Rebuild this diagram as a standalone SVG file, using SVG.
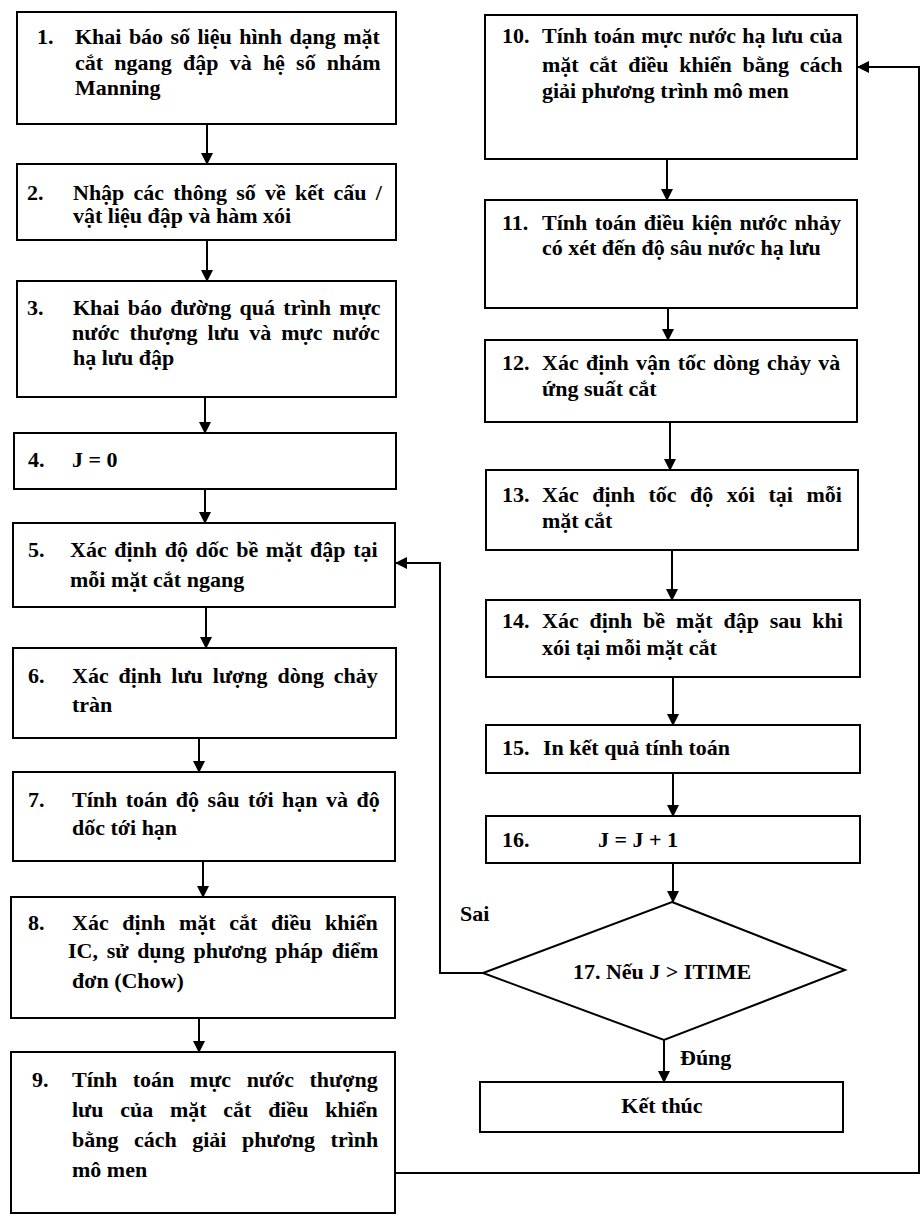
<svg xmlns="http://www.w3.org/2000/svg" width="922" height="1220" viewBox="0 0 922 1220">
<style>
.box{fill:#fff;stroke:#000;stroke-width:2}
.t{font-family:"Liberation Serif","Times New Roman",serif;font-weight:bold;font-size:22px;fill:#000}
.c{text-anchor:middle}
.ln{fill:none;stroke:#000;stroke-width:2}
</style>
<defs>
<marker id="ah" markerUnits="userSpaceOnUse" markerWidth="12" markerHeight="12" refX="11" refY="6" orient="auto">
<path d="M0,0 L12,6 L0,12 z" fill="#000"/>
</marker>
</defs>
<rect width="922" height="1220" fill="#fff"/>
<g id="connectors">
<line class="ln" x1="207" y1="124" x2="207" y2="164" marker-end="url(#ah)"/>
<line class="ln" x1="207" y1="240" x2="207" y2="281" marker-end="url(#ah)"/>
<line class="ln" x1="205" y1="397" x2="205" y2="433" marker-end="url(#ah)"/>
<line class="ln" x1="205" y1="489" x2="205" y2="523" marker-end="url(#ah)"/>
<line class="ln" x1="206" y1="607" x2="206" y2="648" marker-end="url(#ah)"/>
<line class="ln" x1="199" y1="738" x2="199" y2="772" marker-end="url(#ah)"/>
<line class="ln" x1="203" y1="861" x2="203" y2="897" marker-end="url(#ah)"/>
<line class="ln" x1="199" y1="1018" x2="199" y2="1052" marker-end="url(#ah)"/>
<line class="ln" x1="667" y1="159" x2="667" y2="200" marker-end="url(#ah)"/>
<line class="ln" x1="668" y1="308" x2="668" y2="340" marker-end="url(#ah)"/>
<line class="ln" x1="670" y1="422" x2="670" y2="470" marker-end="url(#ah)"/>
<line class="ln" x1="672" y1="550" x2="672" y2="600" marker-end="url(#ah)"/>
<line class="ln" x1="673" y1="677" x2="673" y2="725" marker-end="url(#ah)"/>
<line class="ln" x1="673" y1="773" x2="673" y2="816" marker-end="url(#ah)"/>
<line class="ln" x1="673" y1="863" x2="673" y2="902" marker-end="url(#ah)"/>
<line class="ln" x1="664" y1="1040" x2="664" y2="1082" marker-end="url(#ah)"/>
<polyline class="ln" points="483,973 440,973 440,563 396,563" marker-end="url(#ah)"/>
<polyline class="ln" points="395,1173 919,1173 919,67 858,67" marker-end="url(#ah)"/>
<text class="t" x="460" y="921">Sai</text>
<text class="t" x="680" y="1065">Đúng</text>
</g>
<g id="n1">
<rect class="box" x="17" y="12" width="379" height="112"/>
<text class="t" x="37" y="44">1.</text>
<text class="t" x="75" y="44" word-spacing="1.9"><tspan>Khai</tspan> <tspan>báo</tspan> <tspan>số</tspan> <tspan>liệu</tspan> <tspan>hình</tspan> <tspan>dạng</tspan> <tspan>mặt</tspan></text>
<text class="t" x="75" y="70" word-spacing="5.7"><tspan>cắt</tspan> <tspan>ngang</tspan> <tspan>đập</tspan> <tspan>và</tspan> <tspan>hệ</tspan> <tspan>số</tspan> <tspan>nhám</tspan></text>
<text class="t" x="75" y="95">Manning</text>
</g>
<g id="n2">
<rect class="box" x="17" y="164" width="379" height="76"/>
<text class="t" x="27" y="200">2.</text>
<text class="t" x="73" y="200" word-spacing="3.7"><tspan>Nhập</tspan> <tspan>các</tspan> <tspan>thông</tspan> <tspan>số</tspan> <tspan>về</tspan> <tspan>kết</tspan> <tspan>cấu</tspan> <tspan>/</tspan></text>
<text class="t" x="73" y="223"><tspan>vật</tspan> <tspan>liệu</tspan> <tspan>đập</tspan> <tspan>và</tspan> <tspan>hàm</tspan> <tspan>xói</tspan></text>
</g>
<g id="n3">
<rect class="box" x="17" y="281" width="379" height="116"/>
<text class="t" x="27" y="315">3.</text>
<text class="t" x="73" y="315" word-spacing="2.8"><tspan>Khai</tspan> <tspan>báo</tspan> <tspan>đường</tspan> <tspan>quá</tspan> <tspan>trình</tspan> <tspan>mực</tspan></text>
<text class="t" x="72" y="340" word-spacing="4.5"><tspan>nước</tspan> <tspan>thượng</tspan> <tspan>lưu</tspan> <tspan>và</tspan> <tspan>mực</tspan> <tspan>nước</tspan></text>
<text class="t" x="73" y="365"><tspan>hạ</tspan> <tspan>lưu</tspan> <tspan>đập</tspan></text>
</g>
<g id="n4">
<rect class="box" x="14" y="433" width="382" height="56"/>
<text class="t" x="28" y="467">4.</text>
<text class="t" x="72" y="467">J = 0</text>
</g>
<g id="n5">
<rect class="box" x="13" y="523" width="382" height="84"/>
<text class="t" x="28" y="557">5.</text>
<text class="t" x="70" y="557" word-spacing="2.1"><tspan>Xác</tspan> <tspan>định</tspan> <tspan>độ</tspan> <tspan>dốc</tspan> <tspan>bề</tspan> <tspan>mặt</tspan> <tspan>đập</tspan> <tspan>tại</tspan></text>
<text class="t" x="70" y="587"><tspan>mỗi</tspan> <tspan>mặt</tspan> <tspan>cắt</tspan> <tspan>ngang</tspan></text>
</g>
<g id="n6">
<rect class="box" x="13" y="648" width="383" height="90"/>
<text class="t" x="28" y="683">6.</text>
<text class="t" x="72" y="683" word-spacing="4.4"><tspan>Xác</tspan> <tspan>định</tspan> <tspan>lưu</tspan> <tspan>lượng</tspan> <tspan>dòng</tspan> <tspan>chảy</tspan></text>
<text class="t" x="72" y="712">tràn</text>
</g>
<g id="n7">
<rect class="box" x="13" y="772" width="382" height="89"/>
<text class="t" x="28" y="807">7.</text>
<text class="t" x="72" y="807" word-spacing="3"><tspan>Tính</tspan> <tspan>toán</tspan> <tspan>độ</tspan> <tspan>sâu</tspan> <tspan>tới</tspan> <tspan>hạn</tspan> <tspan>và</tspan> <tspan>độ</tspan></text>
<text class="t" x="72" y="835"><tspan>dốc</tspan> <tspan>tới</tspan> <tspan>hạn</tspan></text>
</g>
<g id="n8">
<rect class="box" x="11" y="897" width="384" height="121"/>
<text class="t" x="28" y="930">8.</text>
<text class="t" x="72" y="930" word-spacing="8.2"><tspan>Xác</tspan> <tspan>định</tspan> <tspan>mặt</tspan> <tspan>cắt</tspan> <tspan>điều</tspan> <tspan>khiển</tspan></text>
<text class="t" x="68" y="958" word-spacing="3.2"><tspan>IC,</tspan> <tspan>sử</tspan> <tspan>dụng</tspan> <tspan>phương</tspan> <tspan>pháp</tspan> <tspan>điểm</tspan></text>
<text class="t" x="72" y="988"><tspan>đơn</tspan> <tspan>(Chow)</tspan></text>
</g>
<g id="n9">
<rect class="box" x="11" y="1052" width="384" height="161"/>
<text class="t" x="32" y="1087">9.</text>
<text class="t" x="72" y="1087" word-spacing="10"><tspan>Tính</tspan> <tspan>toán</tspan> <tspan>mực</tspan> <tspan>nước</tspan> <tspan>thượng</tspan></text>
<text class="t" x="72" y="1117" word-spacing="11.2"><tspan>lưu</tspan> <tspan>của</tspan> <tspan>mặt</tspan> <tspan>cắt</tspan> <tspan>điều</tspan> <tspan>khiển</tspan></text>
<text class="t" x="72" y="1147" word-spacing="10"><tspan>bằng</tspan> <tspan>cách</tspan> <tspan>giải</tspan> <tspan>phương</tspan> <tspan>trình</tspan></text>
<text class="t" x="72" y="1177"><tspan>mô</tspan> <tspan>men</tspan></text>
</g>
<g id="n10">
<rect class="box" x="485" y="15" width="372" height="144"/>
<text class="t" x="502" y="43">10.</text>
<text class="t" x="542" y="43" word-spacing="0.7"><tspan>Tính</tspan> <tspan>toán</tspan> <tspan>mực</tspan> <tspan>nước</tspan> <tspan>hạ</tspan> <tspan>lưu</tspan> <tspan>của</tspan></text>
<text class="t" x="542" y="72" word-spacing="5.2"><tspan>mặt</tspan> <tspan>cắt</tspan> <tspan>điều</tspan> <tspan>khiển</tspan> <tspan>bằng</tspan> <tspan>cách</tspan></text>
<text class="t" x="542" y="98"><tspan>giải</tspan> <tspan>phương</tspan> <tspan>trình</tspan> <tspan>mô</tspan> <tspan>men</tspan></text>
</g>
<g id="n11">
<rect class="box" x="485" y="200" width="372" height="108"/>
<text class="t" x="502" y="230">11.</text>
<text class="t" x="542" y="230" word-spacing="2"><tspan>Tính</tspan> <tspan>toán</tspan> <tspan>điều</tspan> <tspan>kiện</tspan> <tspan>nước</tspan> <tspan>nhảy</tspan></text>
<text class="t" x="542" y="255"><tspan>có</tspan> <tspan>xét</tspan> <tspan>đến</tspan> <tspan>độ</tspan> <tspan>sâu</tspan> <tspan>nước</tspan> <tspan>hạ</tspan> <tspan>lưu</tspan></text>
</g>
<g id="n12">
<rect class="box" x="485" y="340" width="372" height="82"/>
<text class="t" x="502" y="370">12.</text>
<text class="t" x="542" y="370" word-spacing="1.8"><tspan>Xác</tspan> <tspan>định</tspan> <tspan>vận</tspan> <tspan>tốc</tspan> <tspan>dòng</tspan> <tspan>chảy</tspan> <tspan>và</tspan></text>
<text class="t" x="542" y="396"><tspan>ứng</tspan> <tspan>suất</tspan> <tspan>cắt</tspan></text>
</g>
<g id="n13">
<rect class="box" x="486" y="470" width="372" height="80"/>
<text class="t" x="502" y="502">13.</text>
<text class="t" x="542" y="502" word-spacing="8"><tspan>Xác</tspan> <tspan>định</tspan> <tspan>tốc</tspan> <tspan>độ</tspan> <tspan>xói</tspan> <tspan>tại</tspan> <tspan>mỗi</tspan></text>
<text class="t" x="542" y="528"><tspan>mặt</tspan> <tspan>cắt</tspan></text>
</g>
<g id="n14">
<rect class="box" x="486" y="600" width="374" height="77"/>
<text class="t" x="502" y="628">14.</text>
<text class="t" x="542" y="628" word-spacing="5.3"><tspan>Xác</tspan> <tspan>định</tspan> <tspan>bề</tspan> <tspan>mặt</tspan> <tspan>đập</tspan> <tspan>sau</tspan> <tspan>khi</tspan></text>
<text class="t" x="542" y="655"><tspan>xói</tspan> <tspan>tại</tspan> <tspan>mỗi</tspan> <tspan>mặt</tspan> <tspan>cắt</tspan></text>
</g>
<g id="n15">
<rect class="box" x="486" y="725" width="374" height="48"/>
<text class="t" x="502" y="755">15.</text>
<text class="t" x="543" y="755"><tspan>In</tspan> <tspan>kết</tspan> <tspan>quả</tspan> <tspan>tính</tspan> <tspan>toán</tspan></text>
</g>
<g id="n16">
<rect class="box" x="486" y="816" width="374" height="47"/>
<text class="t" x="502" y="847">16.</text>
<text class="t" x="598" y="847">J = J + 1</text>
</g>
<g id="n17">
<polygon class="box" points="672,902 845,970 664,1040 483,973"/>
<text class="t c" x="662" y="979">17. Nếu J &gt; ITIME</text>
</g>
<g id="end">
<rect class="box" x="480" y="1082" width="363" height="50"/>
<text class="t c" x="662" y="1113">Kết thúc</text>
</g>
</svg>
